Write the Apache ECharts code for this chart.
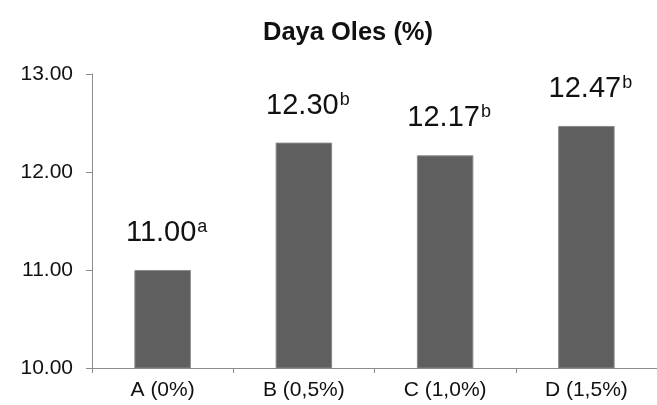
<!DOCTYPE html>
<html><head><meta charset="utf-8">
<script src="https://cdn.jsdelivr.net/npm/echarts@6/dist/echarts.min.js"></script>
<style>html,body{margin:0;padding:0;background:#fff}#c{width:657px;height:405px}</style>
</head><body><div id="c"></div>
<script>
const titleText = 'Daya Oles (%)';
const categories = ['A (0%)', 'B (0,5%)', 'C (1,0%)', 'D (1,5%)'];
const values = [11.00, 12.30, 12.17, 12.47];
const letters = ['a', 'b', 'b', 'b'];
const yMin = 10, yMax = 13, yStep = 1;

const chart = echarts.init(document.getElementById('c'), null, {renderer: 'canvas'});
chart.setOption({
  animation: false,
  backgroundColor: '#fff',
  title: {
    text: titleText, left: 343, top: 15, textAlign: 'center',
    textStyle: {fontFamily: 'Liberation Sans', fontWeight: 'bold', fontSize: 25.5, color: '#111'}
  },
  grid: {left: 92, top: 74, width: 568, height: 294, containLabel: false},
  xAxis: {
    type: 'category', data: categories,
    axisLine: {lineStyle: {color: '#8c8c8c', width: 1}},
    axisTick: {show: true, length: 5, alignWithLabel: false, lineStyle: {color: '#8c8c8c'}},
    axisLabel: {fontFamily: 'Liberation Sans', fontSize: 21, color: '#111', margin: 12}
  },
  yAxis: {
    type: 'value', min: yMin, max: yMax, interval: yStep,
    axisLine: {show: true, lineStyle: {color: '#8c8c8c', width: 1}},
    axisTick: {show: true, length: 6, inside: false, lineStyle: {color: '#8c8c8c'}},
    splitLine: {show: false},
    axisLabel: {fontFamily: 'Liberation Sans', fontSize: 21, color: '#111', margin: 19,
      formatter: v => v.toFixed(2)}
  },
  series: [{
    type: 'bar', barWidth: '40%',
    data: values.map((v, i) => ({value: v, letter: letters[i]})),
    itemStyle: {color: '#5f5f5f', borderColor: '#8a8a8a', borderWidth: 1},
    label: {
      show: true, position: 'top', distance: 22, offset: [4, 0],
      formatter: p => '{v|' + p.value.toFixed(2) + '}{s|' + letters[p.dataIndex] + '}',
      rich: {
        v: {fontFamily: 'Liberation Sans', fontSize: 29, color: '#111', lineHeight: 30},
        s: {fontFamily: 'Liberation Sans', fontSize: 18, color: '#111', lineHeight: 18, verticalAlign: 'top', padding: [0,0,0,1]}
      }
    }
  }]
});
</script></body></html>
